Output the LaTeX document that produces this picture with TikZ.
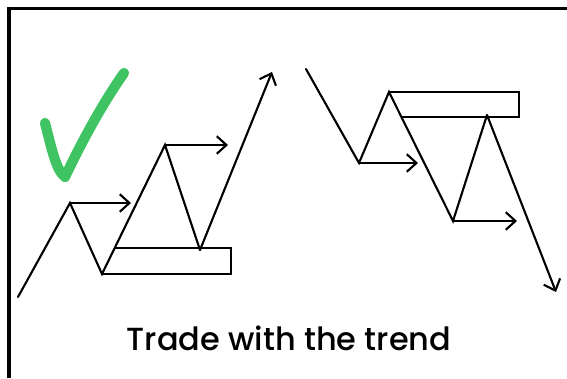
\documentclass[tikz,border=0pt]{standalone}
\usepackage{fontspec}
\setmainfont{Poppins}
\newfontfamily\titlefont{Poppins Medium}
\usetikzlibrary{arrows.meta, calc}

\begin{document}
\begin{tikzpicture}[x=0.02cm, y=-0.02cm]
\tikzset{trend/.style={line width=1.2pt, line join=miter, line cap=round}}
\tikzset{break/.style={trend, -{Straight Barb[length=5.5pt, width=10pt, line width=1.2pt]}}}
\tikzset{zone/.style={line width=1.2pt, line join=miter}}
\definecolor{tickgreen}{RGB}{64,196,99}
\useasboundingbox (0,0) rectangle (567,378);

% frame
\draw[line width=2pt] (9,378) -- (9,8.7) -- (567,8.7);

% uptrend
\coordinate (upS) at (18,297);
\coordinate (upP1) at (70,203);
\coordinate (upL1) at (102,274);
\coordinate (upP2) at (165,145);
\coordinate (upL2) at (200,250);
\coordinate (upE) at (272,72);
\coordinate (upB1) at (131,203);
\coordinate (upB2) at (228,145);
\coordinate (upZ) at ($(upL1)!0.2!(upP2)$);
\draw[zone] (upL1) -- (231,274) -- (231,248) -- (upZ |- 0,248);
\draw[trend] (upS) -- (upP1) -- (upL1) -- (upP2) -- (upL2);
\draw[break] (upL2) -- (upE);
\draw[break] (upP1) -- (upB1);
\draw[break] (upP2) -- (upB2);

% downtrend
\coordinate (dnS) at (306,69);
\coordinate (dnL1) at (359,163);
\coordinate (dnP1) at (389,92);
\coordinate (dnL2) at (453,221);
\coordinate (dnP2) at (487,115);
\coordinate (dnE) at (556,292);
\coordinate (dnB1) at (418,163);
\coordinate (dnB2) at (517,221);
\draw[zone] (dnP1) -- (519,92) -- (519,117) -- (402,117);
\draw[trend] (dnS) -- (dnL1) -- (dnP1) -- (dnL2) -- (dnP2);
\draw[break] (dnP2) -- (dnE);
\draw[break] (dnL1) -- (dnB1);
\draw[break] (dnL2) -- (dnB2);

% check mark
\draw[tickgreen, line width=5.8pt, line cap=round, line join=round]
  (45,123) .. controls (52,150) and (56,170) .. (65,177)
  .. controls (85,135) and (105,100) .. (124,73);

\node[font=\titlefont\fontsize{18.2}{22}\selectfont] (title) at (289,338) {Trade with the trend};
\end{tikzpicture}
\end{document}
